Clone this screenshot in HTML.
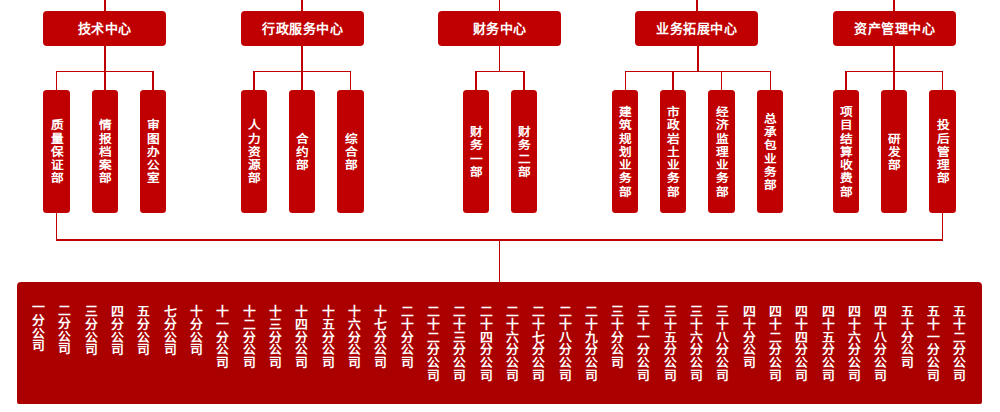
<!DOCTYPE html>
<html lang="zh-CN"><head><meta charset="utf-8"><style>
html,body{margin:0;padding:0;background:#fff;width:1000px;height:412px;overflow:hidden;position:relative;font-family:"Liberation Sans", sans-serif;}
.hd{position:absolute;top:11px;width:123px;height:35px;background:#c00000;border-radius:4px;color:#fff;font-weight:bold;font-size:13px;letter-spacing:0.5px;text-indent:0.5px;line-height:35px;text-align:center;}
.sb{position:absolute;top:90px;height:123px;background:#c00000;border-radius:3.5px;color:#fff;font-weight:bold;font-size:13px;display:flex;align-items:center;justify-content:center;}
.sb span{display:block;position:relative;top:1px;width:14px;font-size:11.5px;line-height:13.25px;transform:scaleX(1.1);word-break:break-all;text-align:center;}
.big{position:absolute;left:17px;top:282px;width:965px;height:122px;background:#ab0000;border-radius:4px 4px 2px 2px;}
.col{position:absolute;width:14px;font-size:12px;line-height:12.8px;transform:scaleX(1.07);transform-origin:50% 0;color:#fff;font-weight:bold;word-break:break-all;text-align:center;}
</style></head><body>
<div class="hd" style="left:43px;">技术中心</div>
<div class="hd" style="left:241px;">行政服务中心</div>
<div class="hd" style="left:438px;">财务中心</div>
<div class="hd" style="left:635px;">业务拓展中心</div>
<div class="hd" style="left:833px;">资产管理中心</div>
<div style="position:absolute;left:104px;top:0px;width:2px;height:11px;background:#c00000;"></div>
<div style="position:absolute;left:301px;top:0px;width:2px;height:11px;background:#c00000;"></div>
<div style="position:absolute;left:499px;top:0px;width:1.2px;height:11px;background:#c00000;"></div>
<div style="position:absolute;left:696px;top:0px;width:2px;height:11px;background:#c00000;"></div>
<div style="position:absolute;left:893px;top:0px;width:2px;height:11px;background:#c00000;"></div>
<div style="position:absolute;left:104px;top:46px;width:2px;height:25px;background:#c00000;"></div>
<div style="position:absolute;left:56px;top:71px;width:98px;height:1.1px;background:#c00000;"></div>
<div style="position:absolute;left:56px;top:71px;width:1.2px;height:19px;background:#c00000;"></div>
<div class="sb" style="left:43px;width:27px;"><span>质量保证部</span></div>
<div style="position:absolute;left:104px;top:71px;width:2px;height:19px;background:#c00000;"></div>
<div class="sb" style="left:92px;width:26px;"><span>情报档案部</span></div>
<div style="position:absolute;left:152px;top:71px;width:2px;height:19px;background:#c00000;"></div>
<div class="sb" style="left:140px;width:26px;"><span>审图办公室</span></div>
<div style="position:absolute;left:301px;top:46px;width:2px;height:25px;background:#c00000;"></div>
<div style="position:absolute;left:253px;top:71px;width:98.19999999999999px;height:1.1px;background:#c00000;"></div>
<div style="position:absolute;left:253px;top:71px;width:1.5px;height:19px;background:#c00000;"></div>
<div class="sb" style="left:241px;width:26px;"><span>人力资源部</span></div>
<div style="position:absolute;left:301px;top:71px;width:2px;height:19px;background:#c00000;"></div>
<div class="sb" style="left:289px;width:26px;"><span>合约部</span></div>
<div style="position:absolute;left:350px;top:71px;width:1.2px;height:19px;background:#c00000;"></div>
<div class="sb" style="left:337px;width:27px;"><span>综合部</span></div>
<div style="position:absolute;left:499px;top:46px;width:1.2px;height:25px;background:#c00000;"></div>
<div style="position:absolute;left:475px;top:71px;width:50px;height:1.1px;background:#c00000;"></div>
<div style="position:absolute;left:475px;top:71px;width:2px;height:19px;background:#c00000;"></div>
<div class="sb" style="left:463px;width:26px;"><span>财务一部</span></div>
<div style="position:absolute;left:523px;top:71px;width:2px;height:19px;background:#c00000;"></div>
<div class="sb" style="left:511px;width:26px;"><span>财务二部</span></div>
<div style="position:absolute;left:697px;top:46px;width:2px;height:25px;background:#c00000;"></div>
<div style="position:absolute;left:624.5px;top:71px;width:146.5px;height:1.1px;background:#c00000;"></div>
<div style="position:absolute;left:624.5px;top:71px;width:1.5px;height:19px;background:#c00000;"></div>
<div class="sb" style="left:612px;width:26px;"><span>建筑规划业务部</span></div>
<div style="position:absolute;left:672px;top:71px;width:1.5px;height:19px;background:#c00000;"></div>
<div class="sb" style="left:660px;width:26px;"><span>市政岩土业务部</span></div>
<div style="position:absolute;left:721px;top:71px;width:1.2px;height:19px;background:#c00000;"></div>
<div class="sb" style="left:708px;width:27px;"><span>经济监理业务部</span></div>
<div style="position:absolute;left:769.5px;top:71px;width:1.5px;height:19px;background:#c00000;"></div>
<div class="sb" style="left:757px;width:26px;"><span>总承包业务部</span></div>
<div style="position:absolute;left:893px;top:46px;width:2px;height:25px;background:#c00000;"></div>
<div style="position:absolute;left:845px;top:71px;width:98.20000000000005px;height:1.1px;background:#c00000;"></div>
<div style="position:absolute;left:845px;top:71px;width:2px;height:19px;background:#c00000;"></div>
<div class="sb" style="left:833px;width:26px;"><span>项目结算收费部</span></div>
<div style="position:absolute;left:893px;top:71px;width:2px;height:19px;background:#c00000;"></div>
<div class="sb" style="left:881px;width:26px;"><span>研发部</span></div>
<div style="position:absolute;left:942px;top:71px;width:1.2px;height:19px;background:#c00000;"></div>
<div class="sb" style="left:929px;width:27px;"><span>投后管理部</span></div>
<div style="position:absolute;left:56px;top:212px;width:1.2px;height:28px;background:#c00000;"></div>
<div style="position:absolute;left:942px;top:212px;width:1.2px;height:28px;background:#c00000;"></div>
<div style="position:absolute;left:56px;top:239px;width:887.2px;height:1.8px;background:#c00000;"></div>
<div style="position:absolute;left:499px;top:240px;width:1.1px;height:42px;background:#c00000;"></div>
<div class="big"></div>
<div class="col" style="left:31.10px;top:302px;">一分公司</div>
<div class="col" style="left:57.42px;top:305px;">二分公司</div>
<div class="col" style="left:83.74px;top:306px;">三分公司</div>
<div class="col" style="left:110.06px;top:306px;">四分公司</div>
<div class="col" style="left:136.38px;top:306px;">五分公司</div>
<div class="col" style="left:162.70px;top:306px;">七分公司</div>
<div class="col" style="left:189.02px;top:306px;">十分公司</div>
<div class="col" style="left:215.34px;top:306px;">十一分公司</div>
<div class="col" style="left:241.66px;top:306px;">十二分公司</div>
<div class="col" style="left:267.98px;top:306px;">十三分公司</div>
<div class="col" style="left:294.30px;top:306px;">十四分公司</div>
<div class="col" style="left:320.62px;top:306px;">十五分公司</div>
<div class="col" style="left:346.94px;top:306px;">十六分公司</div>
<div class="col" style="left:373.26px;top:306px;">十七分公司</div>
<div class="col" style="left:399.58px;top:306px;">二十分公司</div>
<div class="col" style="left:425.90px;top:306px;">二十二分公司</div>
<div class="col" style="left:452.22px;top:306px;">二十三分公司</div>
<div class="col" style="left:478.54px;top:306px;">二十四分公司</div>
<div class="col" style="left:504.86px;top:306px;">二十六分公司</div>
<div class="col" style="left:531.18px;top:306px;">二十七分公司</div>
<div class="col" style="left:557.50px;top:306px;">二十八分公司</div>
<div class="col" style="left:583.82px;top:306px;">二十九分公司</div>
<div class="col" style="left:610.14px;top:306px;">三十分公司</div>
<div class="col" style="left:636.46px;top:306px;">三十一分公司</div>
<div class="col" style="left:662.78px;top:306px;">三十五分公司</div>
<div class="col" style="left:689.10px;top:306px;">三十六分公司</div>
<div class="col" style="left:715.42px;top:306px;">三十八分公司</div>
<div class="col" style="left:741.74px;top:306px;">四十分公司</div>
<div class="col" style="left:768.06px;top:306px;">四十二分公司</div>
<div class="col" style="left:794.38px;top:306px;">四十四分公司</div>
<div class="col" style="left:820.70px;top:306px;">四十五分公司</div>
<div class="col" style="left:847.02px;top:306px;">四十六分公司</div>
<div class="col" style="left:873.34px;top:306px;">四十八分公司</div>
<div class="col" style="left:899.66px;top:306px;">五十分公司</div>
<div class="col" style="left:925.98px;top:306px;">五十一分公司</div>
<div class="col" style="left:952.30px;top:306px;">五十二分公司</div>
</body></html>
